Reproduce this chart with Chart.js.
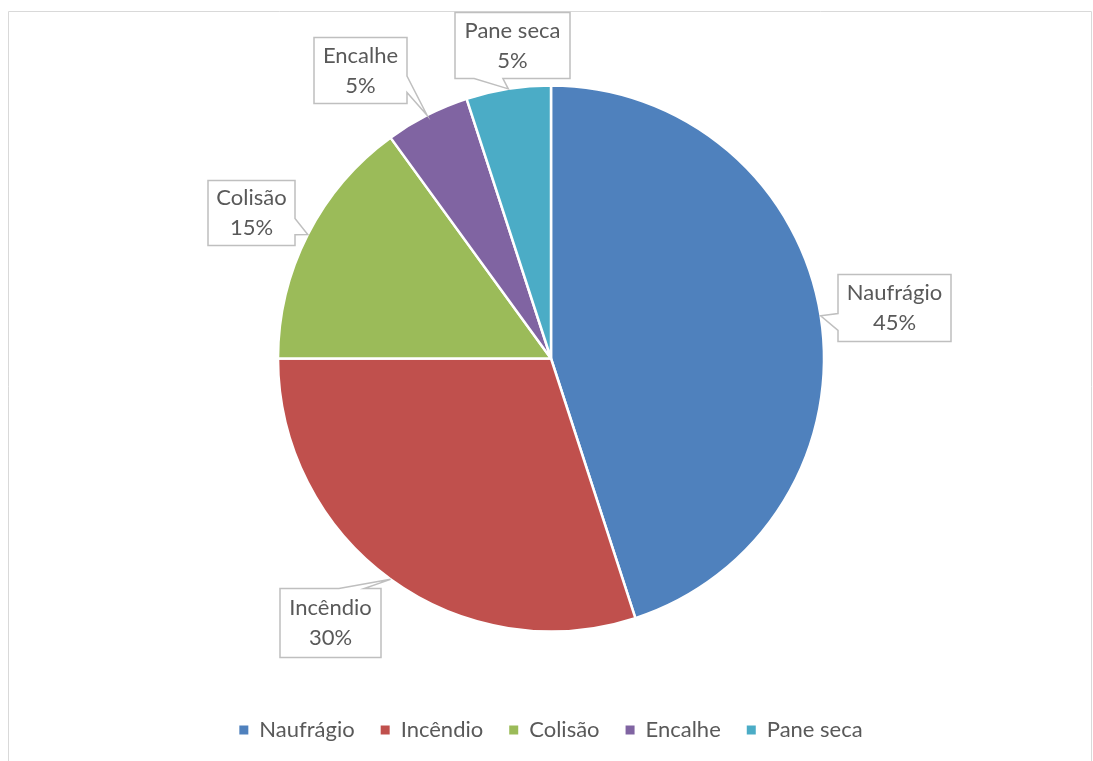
<!DOCTYPE html>
<html>
<head>
<meta charset="utf-8">
<script src="https://cdn.jsdelivr.net/npm/chart.js@4"></script>
<style>
  html, body { margin: 0; padding: 0; background: #fff; }
  #wrap { width: 1093px; height: 761px; position: relative; }
</style>
</head>
<body>
<div id="wrap"><canvas id="pie"></canvas></div>
<script>
const CATEGORIES = ['Naufrágio', 'Incêndio', 'Colisão', 'Encalhe', 'Pane seca'];
const SHARES = [45, 30, 15, 5, 5];
const SLICE_COLORS = ['#4f81bd', '#c0504d', '#9bbb59', '#8064a2', '#4bacc6'];

const TEXT = '#595959';
const FONT = 'Lato, "Liberation Sans", sans-serif';

// callout boxes, relative to the pie centre: [dx, dy, w, h]
const CALLOUTS = [
  [287, -84, 113, 67],
  [-271, 230, 101, 69],
  [-343, -178, 87, 65],
  [-237, -321, 93, 66],
  [-96, -346, 115, 66],
];

// rectangle with a wedge pointing at (tx, ty), same geometry as Office's wedgeRectCallout
function wedgeRect(ctx, l, t, w, h, tx, ty) {
  const r = l + w, b = t + h;
  const dx = tx - (l + w / 2), dy = ty - (t + h / 2);
  const dz = Math.abs(dy) - Math.abs(dx * h / w);
  const x1 = l + w * (dx > 0 ? 7 : 2) / 12, x2 = l + w * (dx > 0 ? 10 : 5) / 12;
  const y1 = t + h * (dy > 0 ? 7 : 2) / 12, y2 = t + h * (dy > 0 ? 10 : 5) / 12;
  const side = dz > 0 ? (dy > 0 ? 'b' : 't') : (dx > 0 ? 'r' : 'l');
  ctx.beginPath();
  ctx.moveTo(l, t);
  if (side === 't') { ctx.lineTo(x1, t); ctx.lineTo(tx, ty); ctx.lineTo(x2, t); }
  ctx.lineTo(r, t);
  if (side === 'r') { ctx.lineTo(r, y1); ctx.lineTo(tx, ty); ctx.lineTo(r, y2); }
  ctx.lineTo(r, b);
  if (side === 'b') { ctx.lineTo(x2, b); ctx.lineTo(tx, ty); ctx.lineTo(x1, b); }
  ctx.lineTo(l, b);
  if (side === 'l') { ctx.lineTo(l, y2); ctx.lineTo(tx, ty); ctx.lineTo(l, y1); }
  ctx.closePath();
}

const frame = {
  id: 'frame',
  beforeDraw(chart) {
    const ctx = chart.ctx;
    ctx.save();
    ctx.strokeStyle = '#d9d9d9';
    ctx.lineWidth = 1;
    ctx.beginPath();
    ctx.moveTo(8.5, 770);
    ctx.lineTo(8.5, 11.5);
    ctx.lineTo(1091.5, 11.5);
    ctx.lineTo(1091.5, 770);
    ctx.stroke();
    ctx.restore();
  },
};

const callouts = {
  id: 'callouts',
  afterDatasetsDraw(chart) {
    const ctx = chart.ctx;
    const meta = chart.getDatasetMeta(0);
    const total = SHARES.reduce((a, b) => a + b, 0);
    ctx.save();
    meta.data.forEach((arc, i) => {
      const p = arc.getProps(['x', 'y', 'startAngle', 'endAngle', 'outerRadius'], true);
      const mid = (p.startAngle + p.endAngle) / 2;
      const tx = p.x + Math.cos(mid) * p.outerRadius;
      const ty = p.y + Math.sin(mid) * p.outerRadius;
      const [dx, dy, w, h] = CALLOUTS[i];
      const l = p.x + dx, t = p.y + dy;
      wedgeRect(ctx, l, t, w, h, tx, ty);
      ctx.fillStyle = '#fff';
      ctx.fill();
      ctx.strokeStyle = '#bfbfbf';
      ctx.lineWidth = 1.5;
      ctx.stroke();
      ctx.fillStyle = TEXT;
      ctx.font = '22px ' + FONT;
      ctx.textAlign = 'center';
      ctx.textBaseline = 'middle';
      const cx = l + w / 2, cy = t + h / 2;
      ctx.fillText(CATEGORIES[i], cx, cy - 15);
      ctx.fillText(Math.round(SHARES[i] / total * 100) + '%', cx, cy + 15);
    });
    ctx.restore();
  },
};

new Chart(document.getElementById('pie'), {
  type: 'pie',
  data: {
    labels: CATEGORIES,
    datasets: [{
      data: SHARES,
      backgroundColor: SLICE_COLORS,
      borderColor: '#ffffff',
      borderWidth: 2.5,
    }],
  },
  options: {
    responsive: true,
    maintainAspectRatio: false,
    animation: false,
    radius: 273,
    layout: { padding: { top: 24, bottom: 10, left: 9, right: 0 } },
    plugins: {
      tooltip: { enabled: false },
      legend: {
        position: 'bottom',
        labels: {
          color: TEXT,
          font: { family: FONT, size: 22 },
          boxWidth: 9,
          boxHeight: 9,
          padding: 26,
          generateLabels: (chart) =>
            Chart.overrides.pie.plugins.legend.labels.generateLabels(chart)
              .map((l) => ({ ...l, lineWidth: 0, strokeStyle: l.fillStyle })),
        },
      },
    },
  },
  plugins: [frame, callouts],
});
</script>
</body>
</html>
